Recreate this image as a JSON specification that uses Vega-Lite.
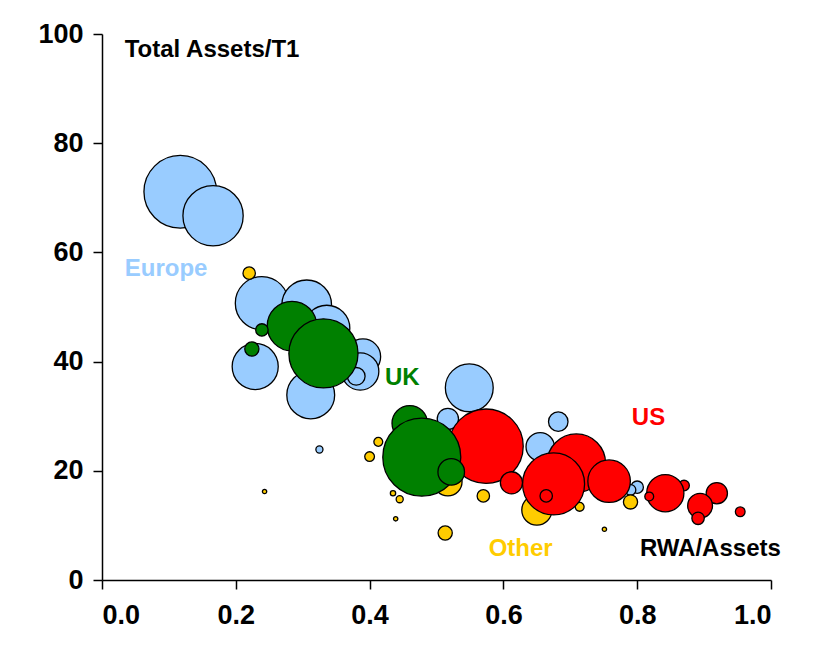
{
  "$schema": "https://vega.github.io/schema/vega-lite/v6.json",
  "width": 669,
  "height": 546,
  "autosize": "none",
  "padding": {"left": 102, "top": 34, "right": 45, "bottom": 72},
  "background": "white",
  "config": {
    "view": {"stroke": null},
    "axis": {
      "grid": false,
      "domainColor": "#000000",
      "domainWidth": 1.5,
      "tickColor": "#000000",
      "tickWidth": 1.5,
      "tickSize": 9,
      "labelFont": "Liberation Sans",
      "labelFontSize": 27,
      "labelFontWeight": "bold",
      "labelColor": "#000000",
      "title": null
    },
    "axisX": {"labelPadding": 13},
    "axisY": {"labelPadding": 10}
  },
  "datasets": {
    "banks": [
      {"region": "Europe", "rwa_assets": 0.117, "assets_t1": 71.1, "assets": 1681},
      {"region": "Europe", "rwa_assets": 0.166, "assets_t1": 66.7, "assets": 1156},
      {"region": "Europe", "rwa_assets": 0.239, "assets_t1": 50.7, "assets": 900},
      {"region": "Europe", "rwa_assets": 0.306, "assets_t1": 50.4, "assets": 784},
      {"region": "Europe", "rwa_assets": 0.336, "assets_t1": 46.1, "assets": 676},
      {"region": "Europe", "rwa_assets": 0.229, "assets_t1": 39.1, "assets": 676},
      {"region": "Europe", "rwa_assets": 0.312, "assets_t1": 33.9, "assets": 729},
      {"region": "Europe", "rwa_assets": 0.390, "assets_t1": 40.9, "assets": 400},
      {"region": "Europe", "rwa_assets": 0.386, "assets_t1": 38.2, "assets": 441},
      {"region": "Europe", "rwa_assets": 0.380, "assets_t1": 37.3, "assets": 100},
      {"region": "Europe", "rwa_assets": 0.549, "assets_t1": 35.2, "assets": 729},
      {"region": "Europe", "rwa_assets": 0.682, "assets_t1": 29.0, "assets": 121},
      {"region": "Europe", "rwa_assets": 0.655, "assets_t1": 24.4, "assets": 256},
      {"region": "Europe", "rwa_assets": 0.517, "assets_t1": 29.5, "assets": 144},
      {"region": "Europe", "rwa_assets": 0.800, "assets_t1": 17.0, "assets": 49},
      {"region": "Europe", "rwa_assets": 0.790, "assets_t1": 16.5, "assets": 36},
      {"region": "Europe", "rwa_assets": 0.325, "assets_t1": 23.9, "assets": 16},
      {"region": "Other", "rwa_assets": 0.220, "assets_t1": 56.2, "assets": 49},
      {"region": "Other", "rwa_assets": 0.400, "assets_t1": 22.6, "assets": 30},
      {"region": "Other", "rwa_assets": 0.413, "assets_t1": 25.3, "assets": 25},
      {"region": "Other", "rwa_assets": 0.435, "assets_t1": 15.9, "assets": 9},
      {"region": "Other", "rwa_assets": 0.445, "assets_t1": 14.8, "assets": 16},
      {"region": "Other", "rwa_assets": 0.517, "assets_t1": 18.0, "assets": 256},
      {"region": "Other", "rwa_assets": 0.570, "assets_t1": 15.4, "assets": 49},
      {"region": "Other", "rwa_assets": 0.513, "assets_t1": 8.6, "assets": 64},
      {"region": "Other", "rwa_assets": 0.650, "assets_t1": 12.8, "assets": 289},
      {"region": "Other", "rwa_assets": 0.714, "assets_t1": 13.4, "assets": 25},
      {"region": "Other", "rwa_assets": 0.790, "assets_t1": 14.3, "assets": 64},
      {"region": "Other", "rwa_assets": 0.243, "assets_t1": 16.2, "assets": 6},
      {"region": "Other", "rwa_assets": 0.439, "assets_t1": 11.2, "assets": 6},
      {"region": "Other", "rwa_assets": 0.751, "assets_t1": 9.3, "assets": 6},
      {"region": "US", "rwa_assets": 0.709, "assets_t1": 21.4, "assets": 1089},
      {"region": "US", "rwa_assets": 0.574, "assets_t1": 24.5, "assets": 1764},
      {"region": "US", "rwa_assets": 0.758, "assets_t1": 18.1, "assets": 576},
      {"region": "US", "rwa_assets": 0.675, "assets_t1": 17.6, "assets": 1225},
      {"region": "US", "rwa_assets": 0.612, "assets_t1": 17.8, "assets": 156},
      {"region": "US", "rwa_assets": 0.664, "assets_t1": 15.4, "assets": 49},
      {"region": "US", "rwa_assets": 0.870, "assets_t1": 17.3, "assets": 36},
      {"region": "US", "rwa_assets": 0.842, "assets_t1": 15.9, "assets": 441},
      {"region": "US", "rwa_assets": 0.818, "assets_t1": 15.3, "assets": 25},
      {"region": "US", "rwa_assets": 0.919, "assets_t1": 15.9, "assets": 144},
      {"region": "US", "rwa_assets": 0.894, "assets_t1": 13.6, "assets": 196},
      {"region": "US", "rwa_assets": 0.891, "assets_t1": 11.3, "assets": 49},
      {"region": "US", "rwa_assets": 0.954, "assets_t1": 12.5, "assets": 30},
      {"region": "UK", "rwa_assets": 0.284, "assets_t1": 46.5, "assets": 784},
      {"region": "UK", "rwa_assets": 0.331, "assets_t1": 41.5, "assets": 1521},
      {"region": "UK", "rwa_assets": 0.239, "assets_t1": 45.8, "assets": 49},
      {"region": "UK", "rwa_assets": 0.224, "assets_t1": 42.3, "assets": 64},
      {"region": "UK", "rwa_assets": 0.460, "assets_t1": 28.7, "assets": 400},
      {"region": "UK", "rwa_assets": 0.478, "assets_t1": 22.5, "assets": 1936},
      {"region": "UK", "rwa_assets": 0.522, "assets_t1": 19.8, "assets": 225}
    ],
    "labels": [
      {"region": "Axis", "text": "Total Assets/T1", "rwa_assets": 0.034, "assets_t1": 97.1},
      {"region": "Europe", "text": "Europe", "rwa_assets": 0.034, "assets_t1": 57.0},
      {"region": "UK", "text": "UK", "rwa_assets": 0.423, "assets_t1": 37.0},
      {"region": "US", "text": "US", "rwa_assets": 0.792, "assets_t1": 29.7},
      {"region": "Other", "text": "Other", "rwa_assets": 0.578, "assets_t1": 5.7},
      {"region": "Axis", "text": "RWA/Assets", "rwa_assets": 0.804, "assets_t1": 5.7}
    ]
  },
  "encoding": {
    "x": {
      "field": "rwa_assets",
      "type": "quantitative",
      "scale": {"domain": [0, 1], "nice": false, "zero": false},
      "axis": {"values": [0, 0.2, 0.4, 0.6, 0.8, 1.0], "format": ".1f"}
    },
    "y": {
      "field": "assets_t1",
      "type": "quantitative",
      "scale": {"domain": [0, 100], "nice": false},
      "axis": {"values": [0, 20, 40, 60, 80, 100]}
    },
    "color": {
      "field": "region",
      "type": "nominal",
      "scale": {
        "domain": ["Europe", "UK", "US", "Other", "Axis"],
        "range": ["#99CCFF", "#008000", "#FF0000", "#FFCC00", "#000000"]
      },
      "legend": null
    }
  },
  "layer": [
    {
      "data": {"name": "banks"},
      "mark": {"type": "circle", "opacity": 1, "stroke": "#000000", "strokeWidth": 1.3},
      "encoding": {
        "size": {
          "field": "assets",
          "type": "quantitative",
          "scale": {"domain": [0, 2500], "range": [0, 7854], "zero": true},
          "legend": null
        }
      }
    },
    {
      "data": {"name": "labels"},
      "mark": {
        "type": "text",
        "align": "left",
        "baseline": "middle",
        "font": "Liberation Sans",
        "fontSize": 24,
        "fontWeight": "bold"
      },
      "encoding": {
        "text": {"field": "text", "type": "nominal"}
      }
    }
  ]
}
